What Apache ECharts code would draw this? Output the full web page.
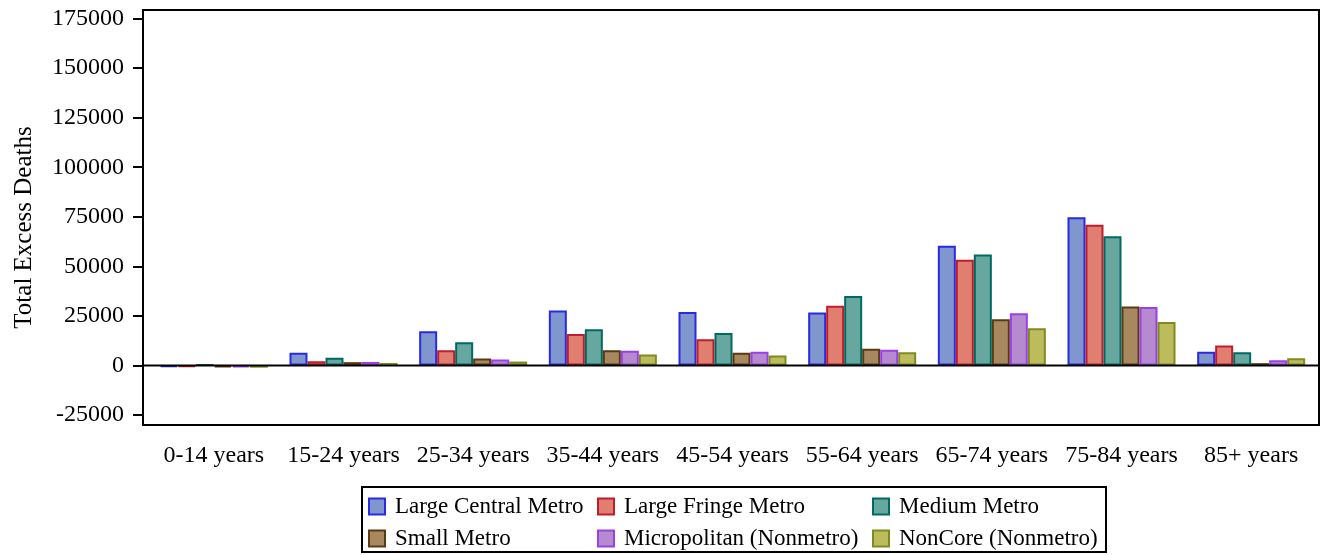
<!DOCTYPE html>
<html>
<head>
<meta charset="utf-8">
<script src="https://cdn.jsdelivr.net/npm/echarts@6/dist/echarts.min.js"></script>
<style>html,body{margin:0;padding:0;background:#fff}#c{width:1322px;height:555px}</style>
</head>
<body>
<div id="c"></div>
<script>
var categories = ['0-14 years','15-24 years','25-34 years','35-44 years','45-54 years','55-64 years','65-74 years','75-84 years','85+ years'];
var seriesNames = ['Large Central Metro','Large Fringe Metro','Medium Metro','Small Metro','Micropolitan (Nonmetro)','NonCore (Nonmetro)'];
var largeCentral = [-800, 6400, 17300, 27700, 27000, 26700, 60400, 74800, 6900];
var largeFringe  = [-700, 2200, 7700, 15900, 13200, 30200, 53300, 71000, 10100];
var mediumMetro  = [400, 3900, 11700, 18300, 16400, 35000, 56000, 65200, 6700];
var smallMetro   = [-900, 1700, 3500, 7700, 6500, 8500, 23300, 29800, 1200];
var micropolitan = [-1000, 1800, 3000, 7400, 6900, 7900, 26400, 29500, 2700];
var noncore      = [-1100, 1300, 2000, 5500, 5000, 6700, 18800, 21900, 3700];
var yTicks = [-25000, 0, 25000, 50000, 75000, 100000, 125000, 150000, 175000];

var fills = ['#7f96ce','#e07f70','#66a8a0','#a8885e','#b68ace','#bcbc5c'];
var borders = ['#2a2ae0','#c01c2e','#006a60','#5a3a12','#9a40e6','#7f8a20'];
var dataList = [largeCentral, largeFringe, mediumMetro, smallMetro, micropolitan, noncore];
var font = '"Liberation Serif", "Times New Roman", serif';

var series = dataList.map(function(d, i){
  return {
    name: seriesNames[i], type: 'bar', data: d,
    barGap: '0%', barCategoryGap: '16.7%',
    itemStyle: {color: fills[i], borderColor: borders[i], borderWidth: 2},
    emphasis: {disabled: true}
  };
});

var legendPos = [[368,495],[597,495],[872,495],[368,527],[597,527],[872,527]];
var legends = seriesNames.map(function(n, i){
  return {
    data: [{name: n, itemStyle: {color: fills[i], borderColor: borders[i], borderWidth: 2}}],
    left: legendPos[i][0], top: legendPos[i][1], padding: 0, itemWidth: 16, itemHeight: 16, itemGap: 0,
    selectedMode: false, icon: 'rect',
    textStyle: {fontFamily: font, fontSize: 23, color: '#000', padding: [0, 0, 0, 5]}
  };
});

var chart = echarts.init(document.getElementById('c'));
chart.setOption({
  animation: false,
  textStyle: {fontFamily: font},
  grid: {left: 149, right: 6, top: 10, bottom: 130, show: false, containLabel: false},
  xAxis: {type: 'category', data: categories, position: 'bottom',
    axisLine: {show: false, onZero: false},
    axisTick: {show: false},
    axisLabel: {fontFamily: font, fontSize: 24, color: '#000', margin: 19, interval: 0}
  },
  yAxis: {type: 'value', min: -30000, max: 179300, offset: 6,
    name: 'Total Excess Deaths', nameLocation: 'middle', nameGap: 106, nameRotate: 90,
    nameTextStyle: {fontFamily: font, fontSize: 25, color: '#000', padding: [0, 20, 0, 0]},
    splitLine: {show: false},
    axisLine: {show: true, lineStyle: {color: '#000', width: 2}},
    axisTick: {show: true, length: 10, customValues: yTicks, lineStyle: {color: '#000', width: 2}},
    axisLabel: {fontFamily: font, fontSize: 24, color: '#000', margin: 19, customValues: yTicks,
      formatter: function(v){ return String(v); }}
  },
  legend: legends,
  series: series
});

var zeroY = chart.convertToPixel({yAxisIndex: 0}, 0);
chart.setOption({
  graphic: [
    {type: 'line', z: 100, shape: {x1: 143, y1: zeroY, x2: 1319, y2: zeroY},
      style: {stroke: '#000', lineWidth: 2}},
    {type: 'rect', z: 100, shape: {x: 143, y: 10, width: 1176, height: 415},
      style: {fill: 'none', stroke: '#000', lineWidth: 2}},
    {type: 'rect', shape: {x: 362, y: 487, width: 744, height: 65},
      style: {fill: 'none', stroke: '#000', lineWidth: 2}}
  ]
});
</script>
</body>
</html>
